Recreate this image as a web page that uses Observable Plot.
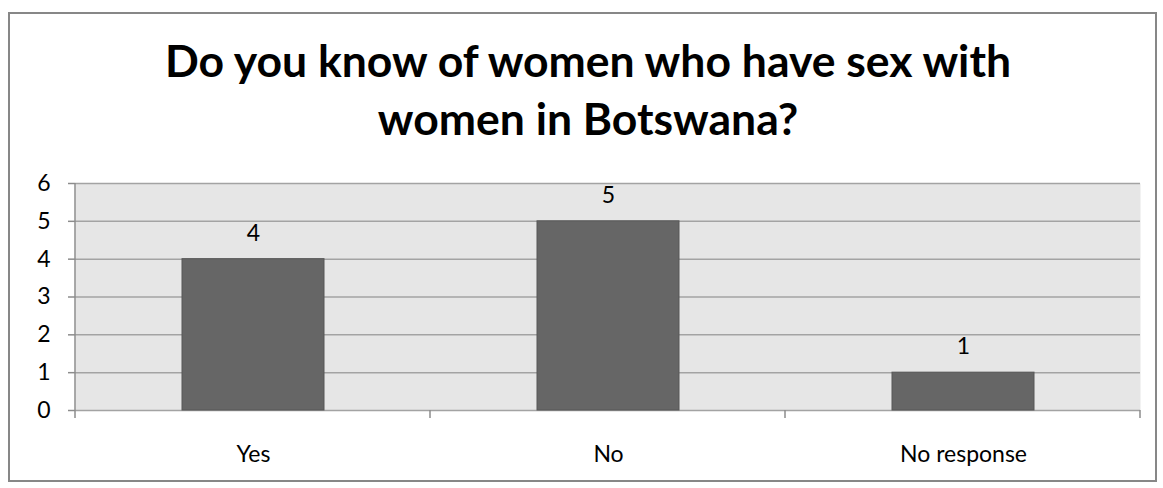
<!DOCTYPE html>
<html>
<head>
<meta charset="utf-8">
<script src="https://cdn.jsdelivr.net/npm/d3@7"></script>
<script src="https://cdn.jsdelivr.net/npm/@observablehq/plot@0.6"></script>
<style>
  html, body { margin: 0; padding: 0; background: #fff; }
  #wrap { position: relative; width: 1163px; height: 488px; overflow: hidden; font-family: Lato, "Open Sans", sans-serif; }
  #border { position: absolute; left: 8px; top: 12px; width: 1145px; height: 466px; border: 2px solid #878787; }
  #title { position: absolute; left: 0; width: 1176px; top: 31px; text-align: center;
           font-family: Lato, sans-serif; font-weight: bold; font-size: 44.5px; line-height: 58px; color: #000; }
  #chart { position: absolute; left: 0; top: 160px; }
</style>
</head>
<body>
<div id="wrap">
  <div id="border"></div>
  <div id="title">Do you know of women who have sex with<br>women in Botswana?</div>
  <div id="chart"></div>
</div>
<script>
// Survey answers and counts
const answers = ["Yes", "No", "No response"];
const counts = [4, 5, 1];
const yTicks = [0, 1, 2, 3, 4, 5, 6];

const data = answers.map((a, i) => ({answer: a, count: counts[i]}));

// Category separator ticks below the plot and the left axis line
function categoryTicks(index, scales, values, dims) {
  const {width, height, marginLeft, marginRight, marginTop, marginBottom} = dims;
  const n = answers.length;
  const step = (width - marginLeft - marginRight) / n;
  const g = d3.create("svg:g").attr("stroke", "#8c8c8c").attr("stroke-width", 1.5);
  const bottom = height - marginBottom;
  g.append("line").attr("x1", marginLeft).attr("x2", marginLeft)
    .attr("y1", marginTop).attr("y2", bottom);
  for (let i = 0; i <= n; i++) {
    const x = marginLeft + i * step;
    g.append("line").attr("x1", x).attr("x2", x).attr("y1", bottom).attr("y2", bottom + 8);
  }
  return g.node();
}

const chart = Plot.plot({
  width: 1163,
  height: 310,
  marginLeft: 75,
  marginRight: 23,
  marginTop: 23,
  marginBottom: 60,
  style: {fontFamily: "Lato, sans-serif", fontSize: "23px", color: "#000", background: "transparent"},
  x: {domain: answers, paddingInner: 0.6, paddingOuter: 0.3, label: null},
  y: {domain: [0, 6], label: null},
  marks: [
    Plot.frame({fill: "#e6e6e6", stroke: null}),
    Plot.ruleY(yTicks, {y: d => d, stroke: "#a3a3a3", strokeWidth: 1.5, strokeOpacity: 1}),
    Plot.barY(data, {x: "answer", y: "count", fill: "#666666", stroke: "#575757", strokeWidth: 1}),
    Plot.text(data, {x: "answer", y: "count", text: d => String(d.count), dy: -26, fontSize: 23, fill: "#000"}),
    Plot.axisY({ticks: yTicks, tickSize: 7, tickPadding: 18, stroke: "#8c8c8c", strokeWidth: 1.5, fontSize: 23, tickFormat: d => String(d)}),
    Plot.axisX({tickSize: 0, tickPadding: 35, fontSize: 23}),
    categoryTicks
  ]
});
document.getElementById("chart").appendChild(chart);
</script>
</body>
</html>
